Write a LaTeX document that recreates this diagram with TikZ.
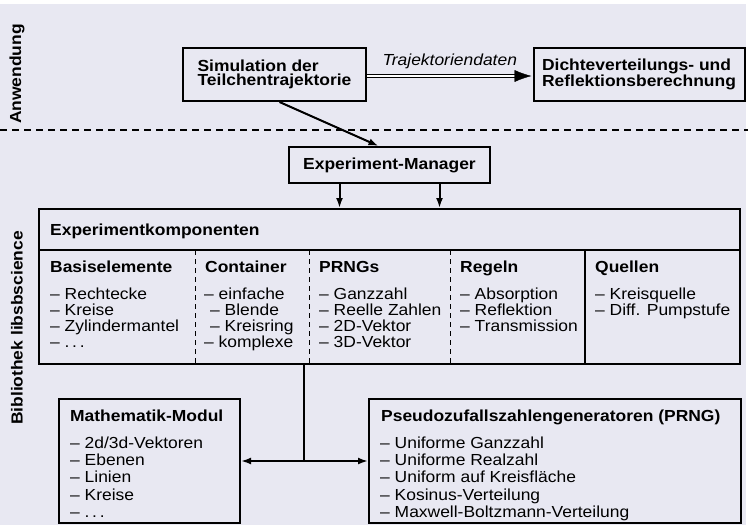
\documentclass[tikz,border=0pt]{standalone}
\usepackage{fontspec}
\setmainfont{Liberation Sans}[FakeStretch=1.09]
\usetikzlibrary{positioning}
\usetikzlibrary{arrows,arrows.meta}
\definecolor{paper}{RGB}{232,232,242}

\begin{document}
\begin{tikzpicture}[x=1pt,y=-1pt]
\tikzstyle{box}=[rectangle, draw=black, line width=2pt, inner sep=0pt, font=\fontsize{16}{14.5}\selectfont\bfseries]
\tikzstyle{title}=[inner sep=0pt, anchor=base west, font=\fontsize{16}{16}\selectfont\bfseries]
\tikzstyle{list}=[inner sep=0pt, anchor=north west, align=left, font=\fontsize{16}{16}\selectfont]
\tikzstyle{looselist}=[list, font=\fontsize{16}{17.3}\selectfont]
\tikzstyle{connect}=[-{Latex[length=10pt,width=7pt]}, line width=2pt]
\tikzstyle{divide}=[line width=1pt, dash pattern=on 5pt off 4pt]

\useasboundingbox (0,0) rectangle (748,525);
\fill[paper] (0,4) rectangle (746,525);

% layers
\node[title, anchor=center, rotate=90] (app) at (17,74) {Anwendung};
\node[title, anchor=center, rotate=90] (lib) at (17,328) {Bibliothek libsbscience};
\draw[line width=2pt, dash pattern=on 7pt off 5pt] (0,130) -- (748,130);

% application
\node[box, minimum width=183, minimum height=53, align=left] (sim) at (274.5,74.5) {Simulation der\\Teilchentrajektorie};
\node[box, minimum width=211, minimum height=53, align=left] (dichte) at (639,74.5) {Dichteverteilungs- und\\Reflektionsberechnung};
\draw[double, double distance=2pt, line width=1pt, shorten >=16pt] ([yshift=-1.5pt]sim.east) -- ([yshift=-1.5pt]dichte.west)
  node[midway, above=7pt, inner sep=0pt, font=\fontsize{16}{16}\selectfont\itshape] (data) {Trajektoriendaten};
\draw[-{Latex[length=17pt,width=12pt]}] ([xshift=-18pt,yshift=-1.5pt]dichte.west) -- ([xshift=-1pt,yshift=-1.5pt]dichte.west);

% library
\node[box, minimum width=201, minimum height=36] (mgr) at (389.5,165) {Experiment-Manager};
\draw[connect] ([xshift=5pt]sim.south) -- ([xshift=-11pt]mgr.north);

\node[box, minimum width=701, minimum height=155] (comp) at (389.5,286.5) {};
\draw[connect] ([xshift=-50pt]mgr.south) -- ([xshift=-50pt]mgr.south |- comp.north);
\draw[connect] ([xshift=50pt]mgr.south) -- ([xshift=50pt]mgr.south |- comp.north);

\node[title] (comptitle) at (50,235) {Experimentkomponenten};
\draw[line width=1.3pt] (39,250) -- (740,250);
\draw[divide] (195,250) -- (195,364);
\draw[divide] (309,250) -- (309,364);
\draw[divide] (450,250) -- (450,364);
\draw[line width=1.3pt] (585,250) -- (585,364);

\node[title] (basis) at (50,272) {Basiselemente};
\node[list] (basislist) at (50,287.5) {-- Rechtecke\\-- Kreise\\-- Zylindermantel\\-- .\,.\,.};
\node[title] (cont) at (205,272) {Container};
\node[list] (contlist) at (204,287.5) {-- einfache\\\hspace*{6pt}-- Blende\\\hspace*{6pt}-- Kreisring\\-- komplexe};
\node[title] (prngs) at (319,272) {PRNGs};
\node[list] (prngslist) at (319,287.5) {-- Ganzzahl\\-- Reelle Zahlen\\-- 2D-Vektor\\-- 3D-Vektor};
\node[title] (regeln) at (460,272) {Regeln};
\node[list] (regelnlist) at (460,287.5) {-- Absorption\\-- Reflektion\\-- Transmission};
\node[title] (quellen) at (595,272) {Quellen};
\node[list] (quellenlist) at (595,287.5) {-- Kreisquelle\\-- Diff. Pumpstufe};

\node[box, minimum width=181, minimum height=124] (math) at (149.5,461) {};
\node[title] (mathtitle) at (70,421) {Mathematik-Modul};
\node[looselist] (mathlist) at (70,436.5) {-- 2d/3d-Vektoren\\-- Ebenen\\-- Linien\\-- Kreise\\-- .\,.\,.};

\node[box, minimum width=372, minimum height=124] (prng) at (555,461) {};
\node[title] (prngtitle) at (381,421) {Pseudozufallszahlengeneratoren (PRNG)};
\node[looselist] (prnglist) at (380,436.5) {-- Uniforme Ganzzahl\\-- Uniforme Realzahl\\-- Uniform auf Kreisfläche\\-- Kosinus-Verteilung\\-- Maxwell-Boltzmann-Verteilung};

\coordinate (hub) at (304,461);
\draw[line width=2pt] (hub |- comp.south) -- (hub);
\draw[connect, {Latex[length=10pt,width=7pt]}-{Latex[length=10pt,width=7pt]}] (math.east) -- (prng.west);
\end{tikzpicture}
\end{document}
